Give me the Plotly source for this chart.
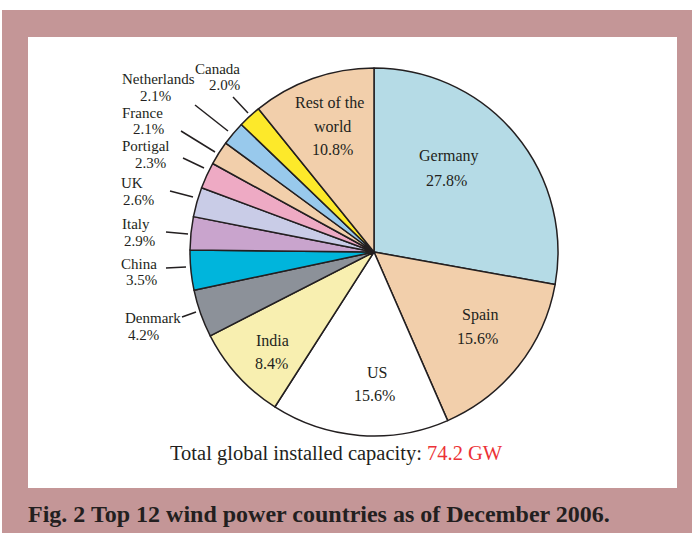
import plotly.graph_objects as go

# Wind power installed capacity share by country, end of 2006
countries = ["Germany", "Spain", "US", "India", "Denmark", "China", "Italy",
             "UK", "Portigal", "France", "Netherlands", "Canada", "Rest of the world"]
shares = [27.8, 15.6, 15.6, 8.4, 4.2, 3.5, 2.9, 2.6, 2.3, 2.1, 2.1, 2.0, 10.8]
slice_colors = ["#b5dbe6", "#f2cfab", "#ffffff", "#f8efb0", "#8c9199", "#00b5dc",
                "#c9a4cd", "#c9cce7", "#eeaac4", "#f2cfab", "#98c9ec", "#fde92a",
                "#f2cfab"]
total_capacity_gw = 74.2

W, H = 692, 533
TEXT = "#231f20"
SERIF = "Liberation Serif, Times New Roman, serif"


def px(x):
    return x / W


def py(y):
    return 1 - y / H


# pie geometry in pixels
cx, cy, r = 374, 252, 184

fig = go.Figure(go.Pie(
    labels=countries,
    values=shares,
    sort=False,
    direction="clockwise",
    rotation=0,
    textinfo="none",
    hoverinfo="label+percent",
    marker=dict(colors=slice_colors, line=dict(color=TEXT, width=1.5)),
    domain=dict(x=[px(cx - r), px(cx + r)], y=[py(cy + r), py(cy - r)]),
    showlegend=False,
))

# label layout: (name position, value position) in pixels
label_pos = {
    "Germany": [(449, 156), (446, 180)],
    "Spain": [(480, 315), (477, 338)],
    "US": [(377, 372), (374, 395)],
    "India": [(272, 340), (271, 363)],
    "Denmark": [(153, 318), (143, 335)],
    "China": [(139, 264), (141, 280)],
    "Italy": [(136, 224), (139, 241)],
    "UK": [(132, 183), (138, 200)],
    "Portigal": [(146, 146), (150, 163)],
    "France": [(142, 113), (148, 129)],
    "Netherlands": [(158, 79), (155, 96)],
    "Canada": [(217, 69), (224, 85)],
}
rest_pos = [(329, 102), (332, 126), (332, 150)]
inside = {"Germany", "Spain", "US", "India"}

# leader lines for the small slices
leaders = {
    "Canada": ((233, 97), (248, 113)),
    "Netherlands": ((195, 105), (228, 131)),
    "France": ((181, 131), (215, 152)),
    "Portigal": ((183, 158), (204, 168)),
    "UK": ((170, 191), (193, 197)),
    "Italy": ((166, 232), (188, 234)),
    "China": ((166, 268), (186, 267)),
    "Denmark": ((182, 317), (196, 312)),
}

annotations = []


def add_text(x, y, s, size=16, color=TEXT, bold=False, xanchor="center"):
    if bold:
        s = "<b>" + s + "</b>"
    annotations.append(dict(
        x=px(x), y=py(y), xref="paper", yref="paper", text=s, showarrow=False,
        xanchor=xanchor, yanchor="middle", borderpad=0,
        font=dict(family=SERIF, size=size, color=color),
    ))


for name, val in zip(countries, shares):
    pct = f"{val:.1f}%"
    if name == "Rest of the world":
        add_text(*rest_pos[0], "Rest of the")
        add_text(*rest_pos[1], "world")
        add_text(*rest_pos[2], pct)
    else:
        size = 16 if name in inside else 15
        (nx, ny), (vx, vy) = label_pos[name]
        add_text(nx, ny, name, size=size)
        add_text(vx, vy, pct, size=size)

add_text(336, 453,
         "Total global installed capacity: "
         f"<span style='color:#ec3237'>{total_capacity_gw} GW</span>",
         size=20.5)
add_text(27, 514, "Fig. 2 Top 12 wind power countries as of December 2006.",
         size=24, bold=True, xanchor="left")

shapes = [
    # pink frame and white panel
    dict(type="rect", xref="paper", yref="paper", x0=px(2), x1=px(692),
         y0=py(533), y1=py(10), fillcolor="#c49697", line=dict(width=0),
         layer="below"),
    dict(type="rect", xref="paper", yref="paper", x0=px(28), x1=px(677),
         y0=py(488), y1=py(37), fillcolor="#ffffff", line=dict(width=0),
         layer="below"),
]
for (x0, y0), (x1, y1) in leaders.values():
    shapes.append(dict(type="line", xref="paper", yref="paper",
                       x0=px(x0), y0=py(y0), x1=px(x1), y1=py(y1),
                       line=dict(color=TEXT, width=1.5)))

fig.update_layout(
    width=W, height=H,
    margin=dict(l=0, r=0, t=0, b=0),
    paper_bgcolor="#ffffff",
    plot_bgcolor="#ffffff",
    shapes=shapes,
    annotations=annotations,
)

fig.write_html("out.html")
